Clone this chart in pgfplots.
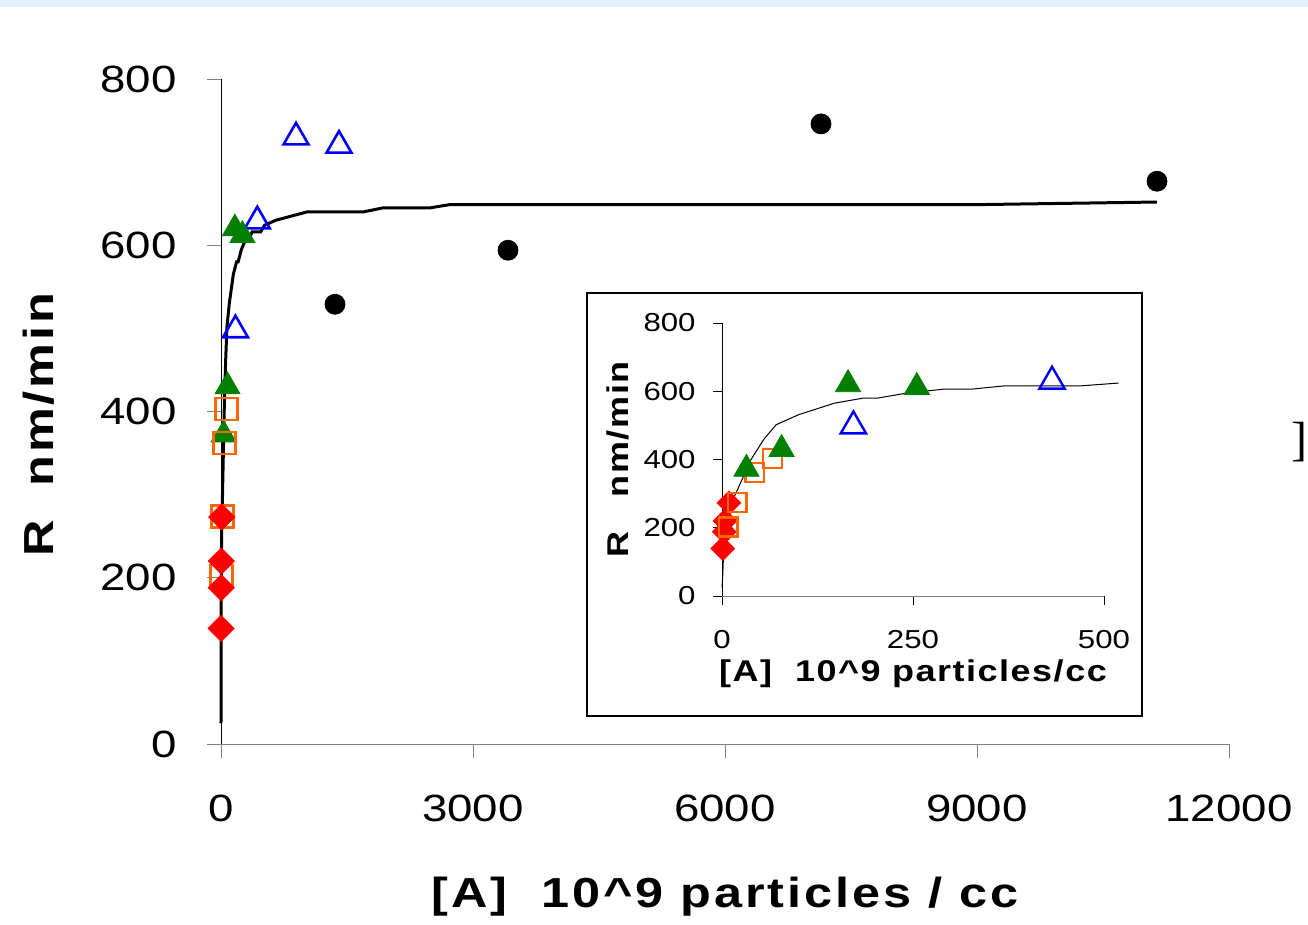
\documentclass[border=0pt]{standalone}
\usepackage{fontspec}
\setmainfont{Liberation Sans}[FakeStretch=1.2]
\newfontfamily\lblfont{Liberation Sans}[FakeStretch=1.2, LetterSpace=7]
\newfontfamily\insetfont{Liberation Sans}[FakeStretch=1.2, LetterSpace=5]
\newfontfamily\serifcut{Liberation Serif}
\usepackage{pgfplots}
\usepackage{pgfplotstable}
\pgfplotsset{compat=1.18}

\definecolor{topband}{RGB}{225,242,254}
\definecolor{mkred}{RGB}{255,0,0}
\definecolor{mkgreen}{RGB}{0,128,0}
\definecolor{mkblue}{RGB}{0,0,255}
\definecolor{mkorange}{RGB}{255,102,0}

% fitted curve
\pgfplotstableread{
x y
0 25
1 60
2 120
3 180
5 230
10 265
18 300
28 350
38 400
55 460
71 502
100 531
147 565
185 580
204 580
243 595
290 606
326 606
371 616
471 616
519 624
650 630
1020 640
1690 640
1930 645
2490 645
2730 649
9095 649
11140 652
}\fitcurve

% black circles
\pgfplotstableread{
x y
1357 529
3417 594
7143 746
11143 677
}\circles

% open blue triangles
\pgfplotstableread{
x y
172 498
432 629
893 730
1405 720
}\bluetri

% filled green triangles
\pgfplotstableread{
x y
32 372
78 430
165 620
255 612
}\greentri

% open orange squares
\pgfplotstableread{
x y
8 202
20 274
43 362
66 403
}\orangesq

% red diamonds
\pgfplotstableread{
x y
1 139
3 188
4 220
9 273
}\reddia

\begin{document}
\begin{tikzpicture}
\path[use as bounding box] (-110.5pt,-90.5pt) rectangle (543.5pt,372pt);
\fill[topband] (-110.5pt,368.5pt) rectangle (543.5pt,372pt);

\begin{axis}[
    at={(0pt,0pt)}, anchor=south west,
    scale only axis, width=504pt, height=332.5pt,
    xmin=0, xmax=12000, ymin=0, ymax=800,
    axis lines*=left,
    x axis line style={gray},
    xtick={0,3000,6000,9000,12000},
    ytick={0,200,400,600,800},
    scaled x ticks=false,
    tick align=outside, major tick length=7pt,
    tick style={gray, thin},
    clip=false,
    /pgf/number format/assume math mode=true,
    /pgf/number format/1000 sep={},
    tick label style={font=\fontsize{19}{19}\selectfont},
    yticklabel style={anchor=east, inner sep=0pt, xshift=-15pt},
    xticklabel style={anchor=north, inner sep=0pt, yshift=-18.5pt},
    xlabel={\lblfont\bfseries [A]\ \ 10\^{}9 particles / cc},
    ylabel={\lblfont\bfseries R\ \ nm/min},
    xlabel style={font=\fontsize{21}{21}\selectfont, at={(axis description cs:0.5,0)}, anchor=center, yshift=-76.5pt},
    ylabel style={font=\fontsize{21}{21}\selectfont, at={(axis description cs:0,0.48)}, anchor=center, yshift=91pt},
  ]
\addplot[black, line width=1.5pt, no markers] table {\fitcurve};
\addplot[only marks, mark=*, mark size=5pt, black] table {\circles};
\addplot[only marks, mark=triangle, mark size=7.2pt, mkblue, mark options={line width=1.3pt}] table {\bluetri};
\addplot[only marks, mark=triangle*, mark size=7.2pt, mkgreen] table {\greentri};
\addplot[only marks, mark=square, mark size=5.5pt, mkorange, mark options={line width=1.3pt}] table {\orangesq};
\addplot[only marks, mark=square*, mark size=4.6pt, mkred, mark options={rotate=45}] table {\reddia};
\end{axis}

\filldraw[fill=white, draw=black, line width=0.6pt] (183pt,14pt) rectangle (460.5pt,225.5pt);

\begin{axis}[
    at={(250.5pt,74pt)}, anchor=south west,
    scale only axis, width=191pt, height=136.5pt,
    xmin=0, xmax=500, ymin=0, ymax=800,
    axis lines*=left,
    x axis line style={gray},
    xtick={0,250,500},
    ytick={0,200,400,600,800},
    tick align=outside, major tick length=4.5pt,
    tick style={black, thin},
    clip=false,
    /pgf/number format/assume math mode=true,
    tick label style={font=\fontsize{13}{13}\selectfont},
    yticklabel style={anchor=east, inner sep=0pt, xshift=-8.5pt},
    xticklabel style={anchor=center, inner sep=0pt, yshift=-17.5pt},
    xlabel={\insetfont\bfseries [A]\ \ 10\^{}9 particles/cc},
    ylabel={\insetfont\bfseries R\ \ \ nm/min},
    xlabel style={font=\fontsize{15}{15}\selectfont, at={(axis description cs:0.5,0)}, anchor=center, yshift=-39pt},
    ylabel style={font=\fontsize{15}{15}\selectfont, at={(axis description cs:0,0.5)}, anchor=center, yshift=52pt},
  ]
\addplot[black, line width=0.5pt, no markers, restrict x to domain=0:520] table {\fitcurve};
\addplot[only marks, mark=square*, mark size=4.2pt, mkred, mark options={rotate=45}] table {\reddia};
\addplot[only marks, mark=square, mark size=4.7pt, mkorange, mark options={line width=1.2pt}] table {\orangesq};
\addplot[only marks, mark=triangle*, mark size=7.3pt, mkgreen] table {\greentri};
\addplot[only marks, mark=triangle, mark size=7.3pt, mkblue, mark options={line width=1.2pt}] table {\bluetri};
\end{axis}

\node[font=\serifcut\fontsize{24}{24}\selectfont, anchor=east, inner sep=0pt] at (543.5pt,151pt) {]};
\end{tikzpicture}
\end{document}
